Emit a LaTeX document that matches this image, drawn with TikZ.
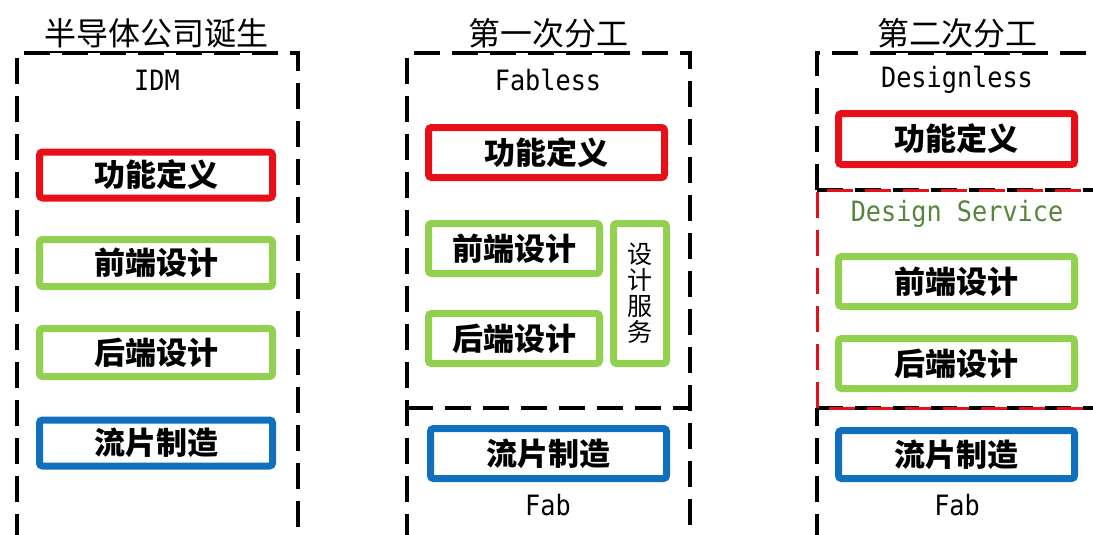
\documentclass[tikz,border=0pt]{standalone}
\usepackage{fontspec}
\newfontfamily\cjk{Noto Sans CJK SC}
\newfontfamily\mono{DejaVu Sans Mono}[FakeStretch=0.9]
\definecolor{boxred}{RGB}{232,16,24}
\definecolor{boxgreen}{RGB}{146,208,80}
\definecolor{boxblue}{RGB}{16,112,190}
\definecolor{dsgreen}{RGB}{88,132,60}
\tikzset{
  cbox/.style={draw=#1, line width=7pt, rounded corners=3pt, inner sep=0pt,
    font=\cjk\bfseries\fontsize{31}{34}\selectfont, text=black},
  panel/.style={line width=3.5pt, dash pattern=on 26pt off 12pt},
  redpanel/.style={line width=3pt, draw=boxred, dash pattern=on 26pt off 12pt, dash phase=19pt},
  ttl/.style={font=\cjk\fontsize{32}{34}\selectfont, anchor=base, inner sep=0pt},
  lat/.style={font=\mono\fontsize{28}{30}\selectfont, inner sep=0pt}
}
\begin{document}
\begin{tikzpicture}[x=1pt,y=-1pt]
\useasboundingbox (0,0) rectangle (1093,535);
\clip (0,0) rectangle (1093,535);
\fill[white] (0,0) rectangle (1093,535);

% ---------- panel 1 ----------
\draw[panel] (17,540) -- (17,53) -- (298,53) -- (298,540);
\node[ttl] (t1) at (157,46) {半导体公司诞生};
\draw[line width=2pt] (t1.west |- 0,52) -- (t1.east |- 0,52);
\node[lat] (idm) at (157,80) {IDM};
\node[cbox=boxred,   minimum width=233pt, minimum height=46pt] (p1a) at (156,175) {功能定义};
\node[cbox=boxgreen, minimum width=233pt, minimum height=47pt] (p1b) at (156,263) {前端设计};
\node[cbox=boxgreen, minimum width=233pt, minimum height=48pt] (p1c) at (156,352.5) {后端设计};
\node[cbox=boxblue,  minimum width=233pt, minimum height=46pt] (p1d) at (156,443) {流片制造};

% ---------- panel 2 ----------
\draw[panel] (407,540) -- (407,53) -- (690,53) -- (690,540);
\draw[panel] (407,408) -- (690,408);
\node[ttl] (t2) at (548,46) {第一次分工};
\draw[line width=2pt] (t2.west |- 0,52) -- (t2.east |- 0,52);
\node[lat] (fabless) at (548,80) {Fabless};
\node[cbox=boxred,   minimum width=236pt, minimum height=50pt] (p2a) at (546.5,152.5) {功能定义};
\node[cbox=boxgreen, minimum width=171pt, minimum height=50pt] (p2b) at (514,248.5) {前端设计};
\node[cbox=boxgreen, minimum width=171pt, minimum height=50pt] (p2c) at (514,338.5) {后端设计};
\node[cbox=boxgreen, minimum width=53pt, minimum height=140pt, align=center,
      font=\cjk\fontsize{25}{26}\selectfont] (p2s) at (640,293.5) {设\\计\\服\\务};
\node[cbox=boxblue,  minimum width=236pt, minimum height=50pt] (p2d) at (548.5,453.5) {流片制造};
\node[lat] (fab2) at (548,505) {Fab};

% ---------- panel 3 ----------
\draw[panel] (817,190) -- (817,53) -- (1100,53) -- (1100,540);
\draw[panel] (817,540) -- (817,408);
\draw[panel] (817,190) -- (1100,190);
\draw[panel] (817,408) -- (1100,408);
\draw[redpanel] (1100,190) -- (817,190) -- (817,408) -- (1100,408);
\node[ttl] (t3) at (957,46) {第二次分工};
\draw[line width=2pt] (t3.west |- 0,52) -- (t3.east |- 0,52);
\node[lat] (designless) at (957,80) {Designless};
\node[cbox=boxred,   minimum width=236pt, minimum height=51pt] (p3a) at (956.5,139) {功能定义};
\node[lat, text=dsgreen] (ds) at (957,214) {Design Service};
\node[cbox=boxgreen, minimum width=236pt, minimum height=50pt] (p3b) at (956.5,281.5) {前端设计};
\node[cbox=boxgreen, minimum width=236pt, minimum height=50pt] (p3c) at (956.5,363.5) {后端设计};
\node[cbox=boxblue,  minimum width=236pt, minimum height=48pt] (p3d) at (956.5,454.5) {流片制造};
\node[lat] (fab3) at (957,505) {Fab};
\end{tikzpicture}
\end{document}
